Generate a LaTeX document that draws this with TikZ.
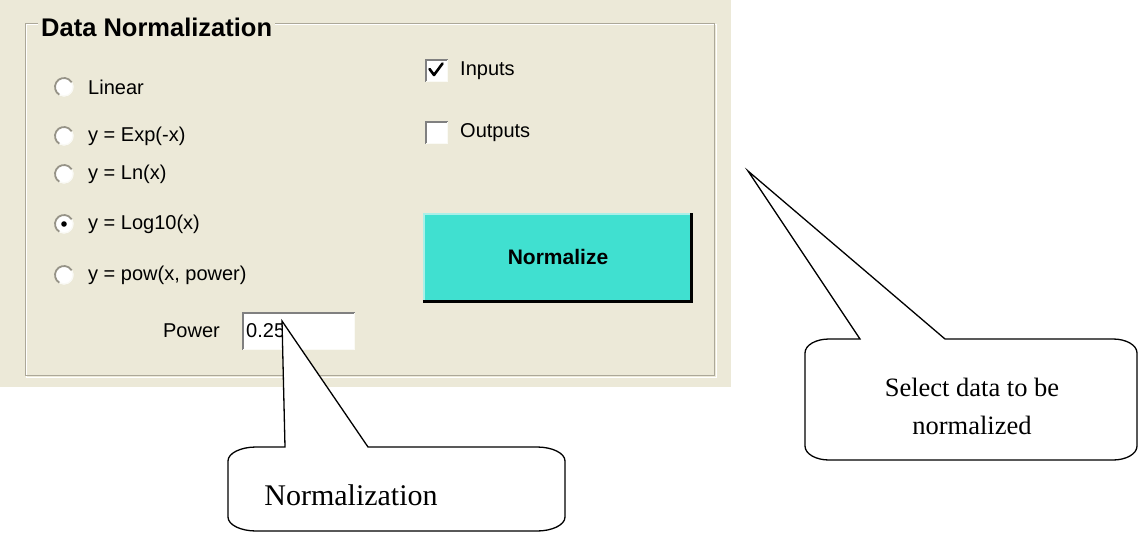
\documentclass[tikz,border=0pt]{standalone}
\usepackage{fontspec}
\setmainfont{Liberation Serif}
\setsansfont{Liberation Sans}
\definecolor{panel}{RGB}{236,233,216}
\definecolor{etch}{RGB}{172,168,153}
\definecolor{turq}{RGB}{64,224,208}
\definecolor{turqlite}{RGB}{170,240,232}
\definecolor{edgegray}{RGB}{128,128,128}
\definecolor{ringdark}{RGB}{150,147,135}
\definecolor{ringlite}{RGB}{250,250,245}

\begin{document}
\begin{tikzpicture}[x=1pt,y=-1pt,
  ui/.style={font=\sffamily\fontsize{20}{24}\selectfont, anchor=west, inner sep=0pt},
  callout/.style={draw=black, fill=white, line width=1.3pt, line join=miter},
  note/.style={font=\fontsize{30}{36}\selectfont, inner sep=0pt},
  radio/.pic={
    \fill[white] (0,0) circle (9.5);
    \draw[ringdark, line width=1.8pt] (120:9) arc (120:330:9);
    \draw[ringlite, line width=1.2pt] (-30:9) arc (-30:120:9);
  },
  checkbox/.pic={
    \fill[white] (0,0) rectangle (23,23);
    \draw[edgegray, line width=1.5pt] (0.75,22.5) -- (0.75,0.75) -- (22.5,0.75);
    \draw[ringlite, line width=1pt] (0.5,22.5) -- (22.5,22.5) -- (22.5,0.5);
  }
]
\useasboundingbox (0,0) rectangle (1139,533);

% dialog panel
\fill[panel] (0,0) rectangle (731,387);

% etched group frame
\draw[white, line width=1pt] (26.5,24.5) rectangle (716,377.5);
\draw[etch, line width=1pt] (25,23) rectangle (714,375.5);
\node[font=\sffamily\bfseries\fontsize{25.5}{30}\selectfont, fill=panel,
      anchor=west, inner sep=3pt] (title) at (38,27) {Data Normalization};

% radio buttons
\foreach \n/\yy/\t in {lin/87/Linear, exp/136/{y = Exp(-x)}, ln/174/{y = Ln(x)},
                       log/224/{y = Log10(x)}, pow/275/{y = pow(x, power)}}{
  \pic at (64,\yy) {radio};
  \node[ui] (r\n) at (88,\yy) {\t};
}
\fill[black] (64,224) circle (2.8);

% check boxes
\pic at (425,59) {checkbox};
\node[ui] (cin) at (460,71) {Inputs};
\draw[black, line width=2.6pt, line cap=round, line join=round]
  (429.5,69) -- (434,75) -- (442.5,63.5);
\pic at (425,121) {checkbox};
\node[ui] (cout) at (460,133) {Outputs};

% action button
\fill[turq] (423,213) rectangle (692,302);
\draw[turqlite, line width=1.5pt] (424,301) -- (424,214) -- (690,214);
\draw[black, line width=3pt] (423,301.5) -- (691.5,301.5) -- (691.5,213);
\node[font=\sffamily\bfseries\fontsize{21}{25}\selectfont] (btn) at (558,257) {Normalize};

% power entry
\node[ui, anchor=east] (plabel) at (220,331) {Power};
\fill[white] (242,312) rectangle (355,350);
\draw[edgegray, line width=1.5pt] (242.75,349.5) -- (242.75,312.75) -- (354.5,312.75);
\draw[ringlite, line width=1pt] (243,349.5) -- (354.5,349.5) -- (354.5,313);
\node[ui] (val) at (246,331) {0.25};

% callout pointing at the power entry
\coordinate (tipA) at (282,321);
\draw[callout] (228,461) .. controls (228,453) and (241,447) .. (256,447)
  -- (285,447) -- (tipA) -- (368,447) -- (537,447)
  .. controls (552,447) and (565,453) .. (565,461) -- (565,517)
  .. controls (565,525) and (552,531) .. (537,531) -- (256,531)
  .. controls (241,531) and (228,525) .. (228,517) -- cycle;
\node[note] (noteA) at (351,495) {Normalization};

% callout pointing at the check boxes
\coordinate (tipB) at (748,171);
\draw[callout] (805,353) .. controls (805,345) and (816,339) .. (829,339)
  -- (860,339) -- (tipB) -- (945,339) -- (1113,339)
  .. controls (1126,339) and (1137,345) .. (1137,353) -- (1137,446)
  .. controls (1137,454) and (1126,460) .. (1113,460) -- (829,460)
  .. controls (816,460) and (805,454) .. (805,446) -- cycle;
\node[font=\fontsize{26.5}{38}\selectfont, align=center, inner sep=0pt]
  (noteB) at (972,406) {Select data to be\\normalized};
\end{tikzpicture}
\end{document}
